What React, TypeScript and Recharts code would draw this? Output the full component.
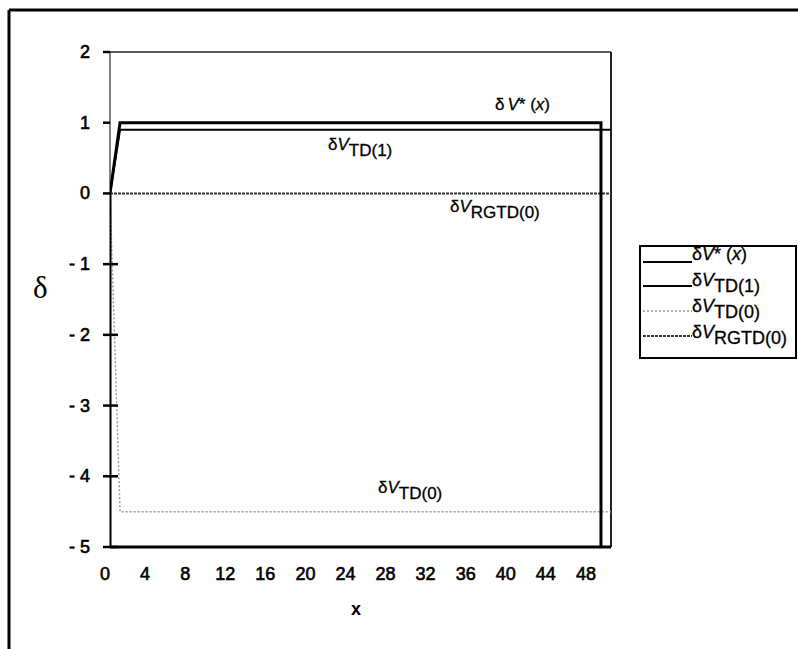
import React from 'react';
import { LineChart, Line, XAxis, YAxis, ReferenceLine } from 'recharts';

const xTicks = [0, 4, 8, 12, 16, 20, 24, 28, 32, 36, 40, 44, 48];
const yTicks = [-5, -4, -3, -2, -1, 0, 1, 2];

// corner points of each curve
const vStar = [
    { x: 0, y: -5 },
    { x: 0, y: 0 },
    { x: 1, y: 1 },
    { x: 49, y: 1 },
    { x: 49, y: -5 },
];
const vTd1 = [
    { x: 0, y: 0 },
    { x: 1, y: 0.9 },
    { x: 50, y: 0.9 },
];
const vTd0 = [
    { x: 0, y: 0 },
    { x: 1, y: -4.5 },
    { x: 50, y: -4.5 },
];
const vRgtd0 = [
    { x: 0, y: 0 },
    { x: 50, y: 0 },
];

const FONT = '"Liberation Sans", Arial, sans-serif';

function XTick({ x, y, payload }: any) {
    return (
        <text x={x - 5} y={y + 33} textAnchor="middle" fontFamily={FONT} fontSize={18} fill="#000" stroke="#000" strokeWidth={0.6}>
            {payload.value}
        </text>
    );
}

function YTick({ x, y, payload }: any) {
    const v = payload.value;
    const label = v < 0 ? `- ${-v}` : `${v}`;
    return (
        <g>
            <line x1={x - 7} x2={v < 0 ? x + 8 : x} y1={y} y2={y} stroke="#000" strokeWidth={2.5} />
            <text x={90} y={y + 6} textAnchor="end" fontFamily={FONT} fontSize={18} fill="#000" stroke="#000" strokeWidth={0.6}>
                {label}
            </text>
        </g>
    );
}

function DV({ x, y, sub, size = 17 }: { x: number; y: number; sub: string; size?: number }) {
    return (
        <text x={x} y={y} fontFamily={FONT} fontSize={size} fill="#000" stroke="#000" strokeWidth={0.3}>
            δ<tspan fontStyle="italic">V</tspan>
            <tspan dy={6}>{sub}</tspan>
        </text>
    );
}

function DVStar({ x, y, size = 17 }: { x: number; y: number; size?: number }) {
    return (
        <text x={x} y={y} fontFamily={FONT} fontSize={size} fill="#000" stroke="#000" strokeWidth={0.3}>
            δ<tspan dx={size === 17 ? 3 : 0} fontStyle="italic">V</tspan>* (<tspan fontStyle="italic">x</tspan>)
        </text>
    );
}

const legendRows = [
    { stroke: '#000', width: 2, dash: undefined as string | undefined },
    { stroke: '#000', width: 2, dash: undefined },
    { stroke: '#999', width: 1.5, dash: '2 2' },
    { stroke: '#333', width: 2, dash: '3 1' },
];

export default function App() {
    const baseY = [260, 286, 312, 338];
    const lineY = [262, 286, 311, 336];
    return (
        <div style={{ position: 'absolute', left: 0, top: 0, width: 798, height: 649, background: '#fff', overflow: 'hidden' }}>
            <LineChart width={798} height={649} margin={{ top: 52, right: 187, bottom: 72, left: 50 }}>
                <XAxis
                    type="number"
                    dataKey="x"
                    domain={[0, 50]}
                    ticks={xTicks}
                    interval={0}
                    height={30}
                    axisLine={{ stroke: '#000', strokeWidth: 3 }}
                    tickLine={false}
                    tickSize={0}
                    tickMargin={0}
                    tick={<XTick />}
                    allowDataOverflow
                />
                <YAxis
                    type="number"
                    domain={[-5, 2]}
                    ticks={yTicks}
                    interval={0}
                    width={60}
                    axisLine={{ stroke: '#000', strokeWidth: 1 }}
                    tickLine={false}
                    tickSize={0}
                    tickMargin={0}
                    tick={<YTick />}
                    allowDataOverflow
                />
                <ReferenceLine y={2} stroke="#222" strokeWidth={1.5} />
                <ReferenceLine x={50} stroke="#222" strokeWidth={2} />
                <Line data={vTd0} dataKey="y" type="linear" stroke="#999" strokeWidth={1.5} strokeDasharray="2 2" dot={false} isAnimationActive={false} />
                <Line data={vRgtd0} dataKey="y" type="linear" stroke="#333" strokeWidth={2} strokeDasharray="3 1" dot={false} isAnimationActive={false} />
                <Line data={vTd1} dataKey="y" type="linear" stroke="#000" strokeWidth={2} dot={false} isAnimationActive={false} />
                <Line data={vStar} dataKey="y" type="linear" stroke="#000" strokeWidth={3} dot={false} isAnimationActive={false} />
            </LineChart>

            <svg width={798} height={649} style={{ position: 'absolute', left: 0, top: 0, pointerEvents: 'none' }}>
                {/* outer frame */}
                <line x1={9} y1={10} x2={798} y2={10} stroke="#000" strokeWidth={3} />
                <line x1={9} y1={10} x2={9} y2={649} stroke="#000" strokeWidth={3} />

                {/* curve labels */}
                <DVStar x={495} y={110} />
                <DV x={328} y={150} sub="TD(1)" />
                <DV x={450} y={212} sub="RGTD(0)" />
                <DV x={378} y={493} sub="TD(0)" />

                {/* axis titles */}
                <text x={33} y={298} fontFamily='"Liberation Serif", "Times New Roman", serif' fontSize={31} fill="#000">δ</text>
                <text x={356} y={615} textAnchor="middle" fontFamily={FONT} fontWeight="bold" fontSize={18} fill="#000">x</text>

                {/* legend */}
                <rect x={640} y={246} width={156} height={112} fill="#fff" stroke="#000" strokeWidth={2} />
                {legendRows.map((r, i) => (
                    <line key={i} x1={643} x2={692} y1={lineY[i]} y2={lineY[i]} stroke={r.stroke} strokeWidth={r.width} strokeDasharray={r.dash} />
                ))}
                <DVStar x={692} y={baseY[0]} size={18} />
                <DV x={692} y={baseY[1]} sub="TD(1)" size={18} />
                <DV x={692} y={baseY[2]} sub="TD(0)" size={18} />
                <DV x={692} y={baseY[3]} sub="RGTD(0)" size={18} />
            </svg>
        </div>
    );
}
